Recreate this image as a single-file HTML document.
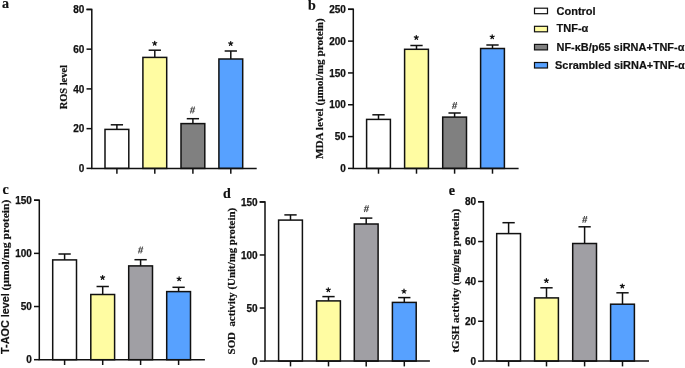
<!DOCTYPE html>
<html><head><meta charset="utf-8">
<style>
html,body{margin:0;padding:0;background:#fff;}
body{width:685px;height:368px;overflow:hidden;position:relative;font-family:"Liberation Sans",sans-serif;}
svg{position:absolute;left:0;top:0;will-change:transform;}
</style></head><body>
<svg width="685" height="368" viewBox="0 0 685 368">
<g stroke="#111" stroke-width="1.5" fill="none"><line x1="116.9" y1="129.4" x2="116.9" y2="124.8"/><line x1="110.75" y1="124.8" x2="123.05" y2="124.8"/><rect x="105" y="129.4" width="23.8" height="39" fill="#FFFFFF"/><line x1="116.9" y1="168.4" x2="116.9" y2="173.7"/><line x1="154.8" y1="57.4" x2="154.8" y2="50.2"/><line x1="148.65" y1="50.2" x2="160.95" y2="50.2"/><rect x="142.9" y="57.4" width="23.8" height="111" fill="#FFFCA2"/><line x1="154.8" y1="168.4" x2="154.8" y2="173.7"/><line x1="192.9" y1="123.6" x2="192.9" y2="118.7"/><line x1="186.75" y1="118.7" x2="199.05" y2="118.7"/><rect x="181" y="123.6" width="23.8" height="44.8" fill="#808080"/><line x1="192.9" y1="168.4" x2="192.9" y2="173.7"/><line x1="230.8" y1="59" x2="230.8" y2="51"/><line x1="224.65" y1="51" x2="236.95" y2="51"/><rect x="218.9" y="59" width="23.8" height="109.4" fill="#57A1FF"/><line x1="230.8" y1="168.4" x2="230.8" y2="173.7"/><polyline fill="none" points="86.5,9.4 91.8,9.4 91.8,168.4 256.7,168.4"/><line x1="86.5" y1="168.4" x2="91.8" y2="168.4"/><line x1="86.5" y1="128.65" x2="91.8" y2="128.65"/><line x1="86.5" y1="88.9" x2="91.8" y2="88.9"/><line x1="86.5" y1="49.15" x2="91.8" y2="49.15"/><line x1="86.5" y1="9.4" x2="91.8" y2="9.4"/></g>
<path d="M154.7,43.4L154.7,41.3M154.7,43.4L156.7,42.75M154.7,43.4L155.93,45.1M154.7,43.4L153.47,45.1M154.7,43.4L152.7,42.75M230.7,43.6L230.7,41.5M230.7,43.6L232.7,42.95M230.7,43.6L231.93,45.3M230.7,43.6L229.47,45.3M230.7,43.6L228.7,42.95" stroke="#111" stroke-width="1.25" stroke-linecap="round" fill="none"/>
<path d="M190.5,113.4L192.3,106.6M192.7,113.4L194.5,106.6" stroke="#3a3a3a" stroke-width="0.95" fill="none"/>
<path d="M190.2,108.8L195.2,108.8M189.8,111.2L194.8,111.2" stroke="#505050" stroke-width="0.75" fill="none"/>
<g stroke="#111" stroke-width="1.5" fill="none"><line x1="378.5" y1="119.4" x2="378.5" y2="114.8"/><line x1="372.35" y1="114.8" x2="384.65" y2="114.8"/><rect x="366.6" y="119.4" width="23.8" height="49" fill="#FFFFFF"/><line x1="378.5" y1="168.4" x2="378.5" y2="173.7"/><line x1="416.5" y1="49.3" x2="416.5" y2="45.5"/><line x1="410.35" y1="45.5" x2="422.65" y2="45.5"/><rect x="404.6" y="49.3" width="23.8" height="119.1" fill="#FFFCA2"/><line x1="416.5" y1="168.4" x2="416.5" y2="173.7"/><line x1="454.6" y1="117.1" x2="454.6" y2="113"/><line x1="448.45" y1="113" x2="460.75" y2="113"/><rect x="442.7" y="117.1" width="23.8" height="51.3" fill="#808080"/><line x1="454.6" y1="168.4" x2="454.6" y2="173.7"/><line x1="492.5" y1="48.5" x2="492.5" y2="45"/><line x1="486.35" y1="45" x2="498.65" y2="45"/><rect x="480.6" y="48.5" width="23.8" height="119.9" fill="#57A1FF"/><line x1="492.5" y1="168.4" x2="492.5" y2="173.7"/><polyline fill="none" points="348,9.3 353.3,9.3 353.3,168.4 518.6,168.4"/><line x1="348" y1="168.4" x2="353.3" y2="168.4"/><line x1="348" y1="136.58" x2="353.3" y2="136.58"/><line x1="348" y1="104.76" x2="353.3" y2="104.76"/><line x1="348" y1="72.94" x2="353.3" y2="72.94"/><line x1="348" y1="41.12" x2="353.3" y2="41.12"/><line x1="348" y1="9.3" x2="353.3" y2="9.3"/></g>
<path d="M416.3,37.6L416.3,35.5M416.3,37.6L418.3,36.95M416.3,37.6L417.53,39.3M416.3,37.6L415.07,39.3M416.3,37.6L414.3,36.95M492.2,36.9L492.2,34.8M492.2,36.9L494.2,36.25M492.2,36.9L493.43,38.6M492.2,36.9L490.97,38.6M492.2,36.9L490.2,36.25" stroke="#111" stroke-width="1.25" stroke-linecap="round" fill="none"/>
<path d="M452.6,108.9L454.4,102.1M454.8,108.9L456.6,102.1" stroke="#3a3a3a" stroke-width="0.95" fill="none"/>
<path d="M452.3,104.3L457.3,104.3M451.9,106.7L456.9,106.7" stroke="#505050" stroke-width="0.75" fill="none"/>
<g stroke="#111" stroke-width="1.5" fill="none"><line x1="64.6" y1="259.9" x2="64.6" y2="254"/><line x1="58.45" y1="254" x2="70.75" y2="254"/><rect x="52.7" y="259.9" width="23.8" height="99.8" fill="#FFFFFF"/><line x1="64.6" y1="359.7" x2="64.6" y2="365"/><line x1="102.7" y1="294.5" x2="102.7" y2="286.5"/><line x1="96.55" y1="286.5" x2="108.85" y2="286.5"/><rect x="90.8" y="294.5" width="23.8" height="65.2" fill="#FFFCA2"/><line x1="102.7" y1="359.7" x2="102.7" y2="365"/><line x1="140.6" y1="265.9" x2="140.6" y2="259.7"/><line x1="134.45" y1="259.7" x2="146.75" y2="259.7"/><rect x="128.7" y="265.9" width="23.8" height="93.8" fill="#A09FA4"/><line x1="140.6" y1="359.7" x2="140.6" y2="365"/><line x1="178.6" y1="291.6" x2="178.6" y2="287.3"/><line x1="172.45" y1="287.3" x2="184.75" y2="287.3"/><rect x="166.7" y="291.6" width="23.8" height="68.1" fill="#57A1FF"/><line x1="178.6" y1="359.7" x2="178.6" y2="365"/><polyline fill="none" points="34,200.2 39.3,200.2 39.3,359.7 204.9,359.7"/><line x1="34" y1="359.7" x2="39.3" y2="359.7"/><line x1="34" y1="306.53" x2="39.3" y2="306.53"/><line x1="34" y1="253.37" x2="39.3" y2="253.37"/><line x1="34" y1="200.2" x2="39.3" y2="200.2"/></g>
<path d="M102.6,277.6L102.6,275.5M102.6,277.6L104.6,276.95M102.6,277.6L103.83,279.3M102.6,277.6L101.37,279.3M102.6,277.6L100.6,276.95M179.1,278.9L179.1,276.8M179.1,278.9L181.1,278.25M179.1,278.9L180.33,280.6M179.1,278.9L177.87,280.6M179.1,278.9L177.1,278.25" stroke="#111" stroke-width="1.25" stroke-linecap="round" fill="none"/>
<path d="M138.6,253.4L140.4,246.6M140.8,253.4L142.6,246.6" stroke="#3a3a3a" stroke-width="0.95" fill="none"/>
<path d="M138.3,248.8L143.3,248.8M137.9,251.2L142.9,251.2" stroke="#505050" stroke-width="0.75" fill="none"/>
<g stroke="#111" stroke-width="1.5" fill="none"><line x1="290.5" y1="220.1" x2="290.5" y2="214.9"/><line x1="284.35" y1="214.9" x2="296.65" y2="214.9"/><rect x="278.6" y="220.1" width="23.8" height="141" fill="#FFFFFF"/><line x1="290.5" y1="361.1" x2="290.5" y2="366.4"/><line x1="328.5" y1="300.9" x2="328.5" y2="296.6"/><line x1="322.35" y1="296.6" x2="334.65" y2="296.6"/><rect x="316.6" y="300.9" width="23.8" height="60.2" fill="#FFFCA2"/><line x1="328.5" y1="361.1" x2="328.5" y2="366.4"/><line x1="366.2" y1="224" x2="366.2" y2="218.1"/><line x1="360.05" y1="218.1" x2="372.35" y2="218.1"/><rect x="354.3" y="224" width="23.8" height="137.1" fill="#A09FA4"/><line x1="366.2" y1="361.1" x2="366.2" y2="366.4"/><line x1="404.3" y1="302.4" x2="404.3" y2="297.6"/><line x1="398.15" y1="297.6" x2="410.45" y2="297.6"/><rect x="392.4" y="302.4" width="23.8" height="58.7" fill="#57A1FF"/><line x1="404.3" y1="361.1" x2="404.3" y2="366.4"/><polyline fill="none" points="259.7,201.9 265,201.9 265,361.1 429.9,361.1"/><line x1="259.7" y1="361.1" x2="265" y2="361.1"/><line x1="259.7" y1="308.03" x2="265" y2="308.03"/><line x1="259.7" y1="254.97" x2="265" y2="254.97"/><line x1="259.7" y1="201.9" x2="265" y2="201.9"/></g>
<path d="M328.3,289.9L328.3,287.8M328.3,289.9L330.3,289.25M328.3,289.9L329.53,291.6M328.3,289.9L327.07,291.6M328.3,289.9L326.3,289.25M404,291.3L404,289.2M404,291.3L406,290.65M404,291.3L405.23,293M404,291.3L402.77,293M404,291.3L402,290.65" stroke="#111" stroke-width="1.25" stroke-linecap="round" fill="none"/>
<path d="M364.4,212.1L366.2,205.3M366.6,212.1L368.4,205.3" stroke="#3a3a3a" stroke-width="0.95" fill="none"/>
<path d="M364.1,207.5L369.1,207.5M363.7,209.9L368.7,209.9" stroke="#505050" stroke-width="0.75" fill="none"/>
<g stroke="#111" stroke-width="1.5" fill="none"><line x1="508.6" y1="233.6" x2="508.6" y2="222.7"/><line x1="502.45" y1="222.7" x2="514.75" y2="222.7"/><rect x="496.7" y="233.6" width="23.8" height="127.5" fill="#FFFFFF"/><line x1="508.6" y1="361.1" x2="508.6" y2="366.4"/><line x1="546.5" y1="297.9" x2="546.5" y2="287.8"/><line x1="540.35" y1="287.8" x2="552.65" y2="287.8"/><rect x="534.6" y="297.9" width="23.8" height="63.2" fill="#FFFCA2"/><line x1="546.5" y1="361.1" x2="546.5" y2="366.4"/><line x1="584.6" y1="243.5" x2="584.6" y2="226.8"/><line x1="578.45" y1="226.8" x2="590.75" y2="226.8"/><rect x="572.7" y="243.5" width="23.8" height="117.6" fill="#A09FA4"/><line x1="584.6" y1="361.1" x2="584.6" y2="366.4"/><line x1="622.5" y1="304.2" x2="622.5" y2="292.8"/><line x1="616.35" y1="292.8" x2="628.65" y2="292.8"/><rect x="610.6" y="304.2" width="23.8" height="56.9" fill="#57A1FF"/><line x1="622.5" y1="361.1" x2="622.5" y2="366.4"/><polyline fill="none" points="478.1,201.7 483.4,201.7 483.4,361.1 649,361.1"/><line x1="478.1" y1="361.1" x2="483.4" y2="361.1"/><line x1="478.1" y1="321.25" x2="483.4" y2="321.25"/><line x1="478.1" y1="281.4" x2="483.4" y2="281.4"/><line x1="478.1" y1="241.55" x2="483.4" y2="241.55"/><line x1="478.1" y1="201.7" x2="483.4" y2="201.7"/></g>
<path d="M546.4,280.7L546.4,278.6M546.4,280.7L548.4,280.05M546.4,280.7L547.63,282.4M546.4,280.7L545.17,282.4M546.4,280.7L544.4,280.05M622.3,286.1L622.3,284M622.3,286.1L624.3,285.45M622.3,286.1L623.53,287.8M622.3,286.1L621.07,287.8M622.3,286.1L620.3,285.45" stroke="#111" stroke-width="1.25" stroke-linecap="round" fill="none"/>
<path d="M582.8,222.8L584.6,216M585,222.8L586.8,216" stroke="#3a3a3a" stroke-width="0.95" fill="none"/>
<path d="M582.5,218.2L587.5,218.2M582.1,220.6L587.1,220.6" stroke="#505050" stroke-width="0.75" fill="none"/>
<g fill="#111" stroke="#111" stroke-width="0.25"><text x="84.40" y="172.00" text-anchor="end" style="font-family:'Liberation Sans',sans-serif;font-weight:bold;font-size:10px">0</text><text x="84.40" y="132.25" text-anchor="end" style="font-family:'Liberation Sans',sans-serif;font-weight:bold;font-size:10px">20</text><text x="84.40" y="92.50" text-anchor="end" style="font-family:'Liberation Sans',sans-serif;font-weight:bold;font-size:10px">40</text><text x="84.40" y="52.75" text-anchor="end" style="font-family:'Liberation Sans',sans-serif;font-weight:bold;font-size:10px">60</text><text x="84.40" y="13.00" text-anchor="end" style="font-family:'Liberation Sans',sans-serif;font-weight:bold;font-size:10px">80</text><text x="345.90" y="172.00" text-anchor="end" style="font-family:'Liberation Sans',sans-serif;font-weight:bold;font-size:10px">0</text><text x="345.90" y="140.18" text-anchor="end" style="font-family:'Liberation Sans',sans-serif;font-weight:bold;font-size:10px">50</text><text x="345.90" y="108.36" text-anchor="end" style="font-family:'Liberation Sans',sans-serif;font-weight:bold;font-size:10px">100</text><text x="345.90" y="76.54" text-anchor="end" style="font-family:'Liberation Sans',sans-serif;font-weight:bold;font-size:10px">150</text><text x="345.90" y="44.72" text-anchor="end" style="font-family:'Liberation Sans',sans-serif;font-weight:bold;font-size:10px">200</text><text x="345.90" y="12.90" text-anchor="end" style="font-family:'Liberation Sans',sans-serif;font-weight:bold;font-size:10px">250</text><text x="31.90" y="363.30" text-anchor="end" style="font-family:'Liberation Sans',sans-serif;font-weight:bold;font-size:10px">0</text><text x="31.90" y="310.13" text-anchor="end" style="font-family:'Liberation Sans',sans-serif;font-weight:bold;font-size:10px">50</text><text x="31.90" y="256.97" text-anchor="end" style="font-family:'Liberation Sans',sans-serif;font-weight:bold;font-size:10px">100</text><text x="31.90" y="203.80" text-anchor="end" style="font-family:'Liberation Sans',sans-serif;font-weight:bold;font-size:10px">150</text><text x="257.60" y="364.70" text-anchor="end" style="font-family:'Liberation Sans',sans-serif;font-weight:bold;font-size:10px">0</text><text x="257.60" y="311.63" text-anchor="end" style="font-family:'Liberation Sans',sans-serif;font-weight:bold;font-size:10px">50</text><text x="257.60" y="258.57" text-anchor="end" style="font-family:'Liberation Sans',sans-serif;font-weight:bold;font-size:10px">100</text><text x="257.60" y="205.50" text-anchor="end" style="font-family:'Liberation Sans',sans-serif;font-weight:bold;font-size:10px">150</text><text x="476.00" y="364.70" text-anchor="end" style="font-family:'Liberation Sans',sans-serif;font-weight:bold;font-size:10px">0</text><text x="476.00" y="324.85" text-anchor="end" style="font-family:'Liberation Sans',sans-serif;font-weight:bold;font-size:10px">20</text><text x="476.00" y="285.00" text-anchor="end" style="font-family:'Liberation Sans',sans-serif;font-weight:bold;font-size:10px">40</text><text x="476.00" y="245.15" text-anchor="end" style="font-family:'Liberation Sans',sans-serif;font-weight:bold;font-size:10px">60</text><text x="476.00" y="205.30" text-anchor="end" style="font-family:'Liberation Sans',sans-serif;font-weight:bold;font-size:10px">80</text></g>
<g fill="#111" stroke="#111" stroke-width="0.2"><text x="2.00" y="7.70" style="font-family:'Liberation Serif',serif;font-weight:bold;font-size:14px">a</text><text x="308.00" y="10.10" style="font-family:'Liberation Serif',serif;font-weight:bold;font-size:14px">b</text><text x="2.50" y="194.00" style="font-family:'Liberation Serif',serif;font-weight:bold;font-size:14px">c</text><text x="223.00" y="197.60" style="font-family:'Liberation Serif',serif;font-weight:bold;font-size:14px">d</text><text x="448.80" y="194.90" style="font-family:'Liberation Serif',serif;font-weight:bold;font-size:14px">e</text></g>
<g fill="#111" stroke="#111" stroke-width="0.2"><text transform="translate(67,109.3) rotate(-90)" textLength="44.20" lengthAdjust="spacingAndGlyphs" style="font-family:'Liberation Serif',serif;font-weight:bold;font-size:10.8px">ROS level</text><text transform="translate(322.9,159.1) rotate(-90)" textLength="140.90" lengthAdjust="spacingAndGlyphs" style="font-family:'Liberation Serif',serif;font-weight:bold;font-size:11.2px">MDA level (μmol/mg protein)</text><text transform="translate(234.5,354.4) rotate(-90)" textLength="146.50" lengthAdjust="spacingAndGlyphs" style="font-family:'Liberation Serif',serif;font-weight:bold;font-size:11.2px" xml:space="preserve">SOD  activity (Unit/mg protein)</text><text transform="translate(458.6,352.6) rotate(-90)" textLength="143.90" lengthAdjust="spacingAndGlyphs" style="font-family:'Liberation Serif',serif;font-weight:bold;font-size:11.2px">tGSH activity (mg/mg protein)</text><text transform="translate(9.4,353.9) rotate(-90)" textLength="60.60" lengthAdjust="spacingAndGlyphs" style="font-family:'Liberation Sans',sans-serif;font-weight:bold;font-size:11px">T-AOC level</text><text transform="translate(9.4,290.6) rotate(-90)" textLength="91.10" lengthAdjust="spacingAndGlyphs" style="font-family:'Liberation Serif',serif;font-weight:bold;font-size:11.2px">(μmol/mg protein)</text></g>
<g stroke="#111" stroke-width="1.2">
<rect x="534.5" y="8.2" width="13" height="5.5" fill="#FFFFFF"/>
<rect x="534.5" y="26.3" width="13" height="5.5" fill="#FFFCA2"/>
<rect x="534.5" y="44.4" width="13" height="5.5" fill="#808080"/>
<rect x="534.5" y="62.5" width="13" height="5.5" fill="#57A1FF"/>
</g>
<g fill="#111" stroke="#111" stroke-width="0.2"><text x="556.50" y="14.50" style="font-family:'Liberation Sans',sans-serif;font-weight:bold;font-size:11px">Control</text><text x="556.50" y="32.40" style="font-family:'Liberation Sans',sans-serif;font-weight:bold;font-size:11px">TNF-α</text><text x="556.50" y="50.80" textLength="127.90" lengthAdjust="spacingAndGlyphs" style="font-family:'Liberation Sans',sans-serif;font-weight:bold;font-size:11px">NF-κB/p65 siRNA+TNF-α</text><text x="555.00" y="68.80" textLength="129.80" lengthAdjust="spacingAndGlyphs" style="font-family:'Liberation Sans',sans-serif;font-weight:bold;font-size:11px">Scrambled siRNA+TNF-α</text></g>
</svg>
</body></html>
